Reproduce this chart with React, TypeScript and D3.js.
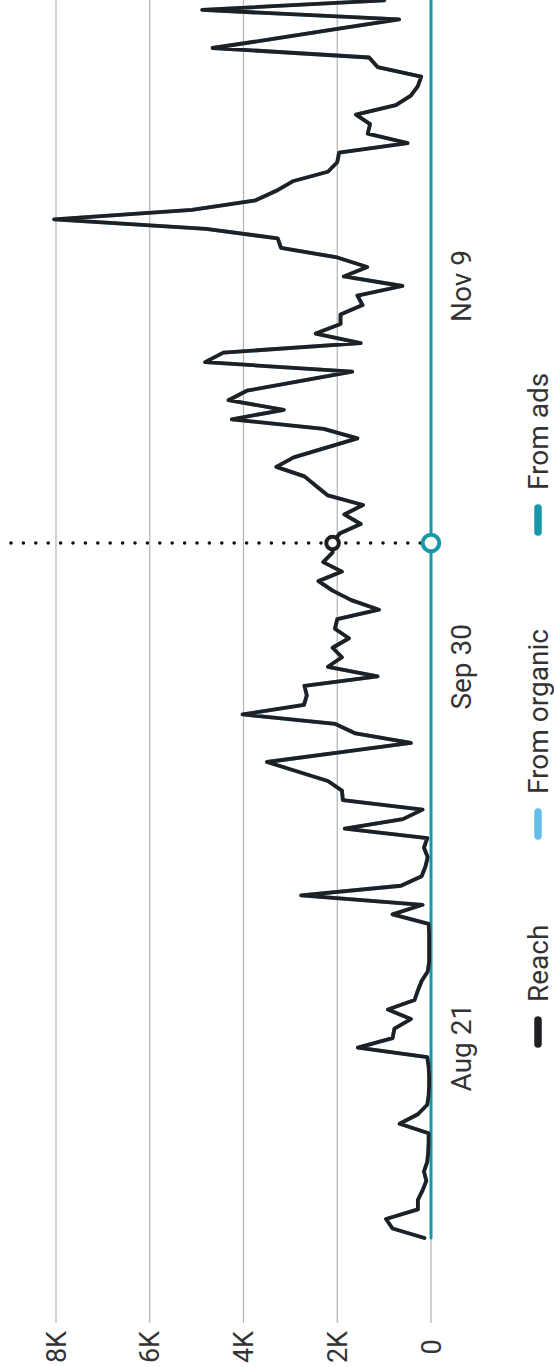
import React, { useEffect, useRef } from 'react';
import * as d3 from 'd3';

const W = 554;
const H = 1367;

// daily reach from Aug 1 (values in thousands)
const firstDay = new Date(2023, 7, 1);
const reachK = [
  0.14, 0.82, 0.96, 0.28, 0.28, 0.18, 0.1, 0.15, 0.08, 0.06,
  0.05, 0.05, 0.67, 0.28, 0.08, 0.05, 0.04, 0.04, 0.05, 0.08,
  1.56, 0.82, 0.78, 0.43, 0.92, 0.35, 0.28, 0.2, 0.07, 0.04,
  0.04, 0.04, 0.04, 0.05, 0.82, 0.18, 2.77, 0.64, 0.2, 0.12,
  0.07, 0.15, 0.08, 1.84, 0.6, 0.18, 1.88, 1.9, 2.2, 2.85,
  3.5, 1.95, 0.43, 1.61, 2.04, 4.02, 2.71, 2.65, 2.7, 1.14,
  2.2, 1.9, 2.1, 1.75, 2.05, 2.0, 1.11, 1.7, 2.1, 2.4,
  1.9, 2.3, 2.1, 2.1, 1.95, 1.5, 1.85, 1.45, 2.2, 2.45,
  2.7, 3.3, 2.93, 2.25, 1.57, 2.29, 4.25, 3.14, 4.32, 3.93,
  2.8, 1.68, 4.82, 4.43, 1.5, 2.46, 1.93, 1.93, 1.46, 1.57,
  0.61, 1.86, 1.36, 2.0, 3.2, 3.27, 4.8, 8.04, 5.1, 3.74,
  3.3, 2.95, 2.2, 2.0, 1.96, 0.5, 1.35, 1.3, 1.6, 0.75,
  0.43, 0.28, 0.21, 1.14, 1.32, 4.66, 3.3, 2.0, 0.68, 4.88,
  1.0, 0.9
];
// ads reach was zero the whole period, so organic equals total reach
const organicK = reachK;
const adsK = reachK.map(() => 0);

const valueTicks = [0, 2000, 4000, 6000, 8000];
const valueLabels = ['0', '2K', '4K', '6K', '8K'];
const dateTicks = [new Date(2023, 7, 21), new Date(2023, 8, 30), new Date(2023, 10, 9)];
const dateLabels = ['Aug 21', 'Sep 30', 'Nov 9'];
const hoverDay = new Date(2023, 9, 13);

const seriesNames = ['Reach', 'From organic', 'From ads'];
const seriesColors = ['#1e2023', '#66bce9', '#1797a9'];
const legendStarts = [1048, 840, 536];

interface Pt { date: Date; v: number; }

export default function App() {
  const svgRef = useRef<SVGSVGElement>(null);

  useEffect(() => {
    if (!svgRef.current) return;
    const svg = d3.select(svgRef.current);
    svg.selectAll('*').remove();

    const toPts = (arr: number[]): Pt[] =>
      arr.map((v, i) => ({ date: d3.timeDay.offset(firstDay, i), v: v * 1000 }));
    const reach = toPts(reachK);
    const organic = toPts(organicK);
    const ads = toPts(adsK);

    // chart is drawn rotated: time runs upward, value runs leftward
    const y = d3
      .scaleTime()
      .domain([firstDay, d3.timeDay.offset(firstDay, 130)])
      .range([1238, 0.4]);
    const x = d3.scaleLinear().domain([0, 8000]).range([431, 56]);

    const font = 'Roboto, "Liberation Sans", Arial, sans-serif';

    svg.append('rect').attr('width', W).attr('height', H).attr('fill', '#fff');

    // grid
    svg
      .append('g')
      .selectAll('line')
      .data(valueTicks)
      .enter()
      .append('line')
      .attr('x1', d => x(d))
      .attr('x2', d => x(d))
      .attr('y1', 0)
      .attr('y2', 1323)
      .attr('stroke', '#b3b3b3')
      .attr('stroke-width', 1.2);

    // value labels
    svg
      .append('g')
      .selectAll('text')
      .data(valueTicks)
      .enter()
      .append('text')
      .attr('transform', d => `translate(${x(d)},1347) rotate(-90)`)
      .attr('text-anchor', 'middle')
      .attr('dy', '0.36em')
      .style('font-family', font)
      .style('font-size', '27px')
      .style('fill', '#333')
      .text((_, i) => valueLabels[i]);

    // date labels
    svg
      .append('g')
      .selectAll('text')
      .data(dateTicks)
      .enter()
      .append('text')
      .attr('transform', d => `translate(461,${y(d)}) rotate(-90)`)
      .attr('text-anchor', 'middle')
      .attr('dy', '0.36em')
      .style('font-family', font)
      .style('font-size', '28px')
      .style('fill', '#333')
      .text((_, i) => dateLabels[i]);

    const line = d3
      .line<Pt>()
      .x(d => x(d.v))
      .y(d => y(d.date));

    [ads, organic, reach].forEach((data, k) => {
      const idx = 2 - k;
      svg
        .append('path')
        .datum(data)
        .attr('d', line)
        .attr('fill', 'none')
        .attr('stroke', seriesColors[idx])
        .attr('stroke-width', idx === 2 ? 3 : 3.8)
        .attr('stroke-linejoin', 'round')
        .attr('stroke-linecap', 'round');
    });

    // hover guide
    const hy = y(hoverDay);
    const hv = reach.find(p => +p.date === +hoverDay)!.v;
    svg
      .append('line')
      .attr('x1', 11)
      .attr('x2', x(0))
      .attr('y1', hy)
      .attr('y2', hy)
      .attr('stroke', '#111')
      .attr('stroke-width', 3.6)
      .attr('stroke-linecap', 'round')
      .attr('stroke-dasharray', '0 12.4');

    svg
      .append('circle')
      .attr('cx', x(hv))
      .attr('cy', hy)
      .attr('r', 6.3)
      .attr('fill', '#fff')
      .attr('stroke', seriesColors[0])
      .attr('stroke-width', 4);
    svg
      .append('circle')
      .attr('cx', x(0))
      .attr('cy', hy)
      .attr('r', 8.3)
      .attr('fill', '#fff')
      .attr('stroke', seriesColors[2])
      .attr('stroke-width', 4);

    // legend
    const legend = svg.append('g').attr('transform', 'translate(538,0)');
    seriesNames.forEach((name, i) => {
      const start = legendStarts[i];
      legend
        .append('line')
        .attr('x1', 0)
        .attr('x2', 0)
        .attr('y1', start - 4)
        .attr('y2', start - 28)
        .attr('stroke', seriesColors[i])
        .attr('stroke-width', 7.5)
        .attr('stroke-linecap', 'round');
      legend
        .append('text')
        .attr('transform', `translate(0,${start - 46}) rotate(-90)`)
        .attr('dy', '0.36em')
        .style('font-family', font)
        .style('font-size', '28px')
        .style('fill', '#333')
        .text(name);
    });
  }, []);

  return (
    <svg
      ref={svgRef}
      width={W}
      height={H}
      style={{ position: 'absolute', left: 0, top: 0 }}
    />
  );
}
